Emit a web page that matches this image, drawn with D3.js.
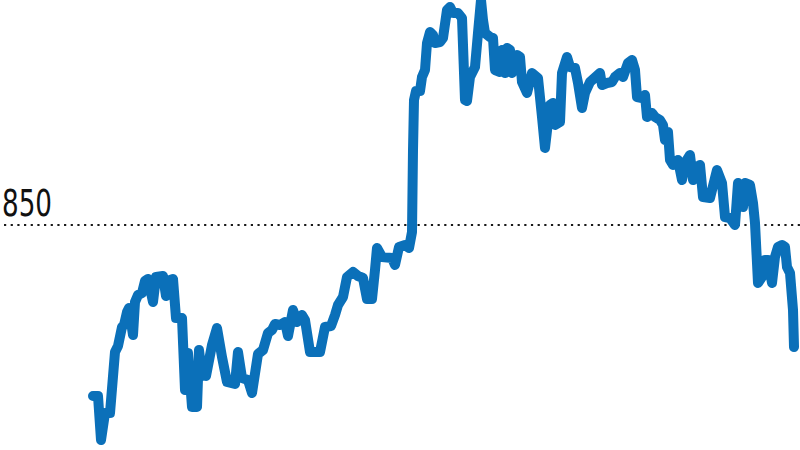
<!DOCTYPE html>
<html>
<head>
<meta charset="utf-8">
<script src="https://cdn.jsdelivr.net/npm/d3@7"></script>
<style>
  html, body { margin: 0; padding: 0; background: #fff; }
  svg { display: block; }
</style>
</head>
<body>
<svg id="chart" width="800" height="450"></svg>
<script>
// Session index (trading days from start of the period)
const sessions = [
  0,5,8,12,17,22,25,29,31,34,
  36,40,42,45,49,52,55,60,63,70,
  73,77,80,83,89,92,95,99,104,106,
  109,113,119,124,129,134,142,145,149,155,
  159,165,170,175,179,182,187,192,195,200,
  204,209,212,217,227,232,238,242,245,250,
  254,260,265,270,274,279,282,284,289,299,
  302,306,312,316,319,320,321,323,327,329,
  332,334,337,340,342,347,350,354,357,360,
  365,369,372,374,377,382,385,388,390,392,
  397,400,402,407,409,412,414,417,419,424,
  427,429,434,439,445,449,452,457,460,462,
  467,469,474,477,482,485,489,492,497,507,
  509,514,519,522,527,530,535,539,542,544,
  549,552,554,559,562,567,570,572,575,577,
  580,585,589,592,597,600,604,607,610,617,
  624,629,632,637,642,645,650,652,657,660,
  662,665,669,672,675,679,682,685,689,692,
  694,697,700,701
];
// Index level
const values = [
  679,679,635,662,662,723,729,748,750,763,
  767,740,773,780,782,794,796,773,798,799,
  779,795,796,757,757,685,722,668,668,725,
  700,699,730,747,718,693,691,723,697,695,
  682,721,725,742,745,751,750,753,739,765,
  753,760,755,723,723,748,749,760,770,778,
  798,803,799,797,776,776,805,827,818,817,
  810,828,830,827,843,925,975,984,984,998,
  1005,1032,1043,1040,1032,1033,1037,1065,1068,1062,
  1062,1057,975,974,998,1008,1042,1075,1055,1042,
  1038,1037,1005,1003,1025,1002,1027,1025,1002,1020,
  1018,993,982,1002,997,958,927,970,972,950,
  953,1002,1018,1008,1007,992,967,982,993,1002,
  990,992,993,998,1002,998,1012,1015,1005,978,
  977,980,958,962,958,955,950,935,943,915,
  910,915,895,912,920,895,908,910,878,877,
  905,892,858,857,850,892,868,892,890,872,
  852,792,798,815,815,792,818,828,830,828,
  808,802,765,728
];
const refValue = 850;
const refLabel = "850";

const svg = d3.select("#chart");
const W = 800, H = 450;

const x = d3.scaleLinear().domain([0, 701]).range([93, 794]);
const y = d3.scaleLinear().domain([625, 1075]).range([450, 0]);

// dotted reference line
svg.append("line")
  .attr("x1", 4).attr("x2", W)
  .attr("y1", y(refValue)).attr("y2", y(refValue))
  .attr("stroke", "#1a1a1a")
  .attr("stroke-width", 2.2)
  .attr("stroke-dasharray", "2.2,4.47");

svg.append("text")
  .attr("x", 2)
  .attr("y", y(refValue) - 9)
  .attr("font-family", "'Liberation Sans Narrow', 'Arial Narrow', 'DejaVu Sans Condensed', sans-serif")
  .attr("font-size", 37)
  .attr("textLength", 50)
  .attr("lengthAdjust", "spacingAndGlyphs")
  .attr("fill", "#111")
  .text(refLabel);

const data = sessions.map((s, i) => ({ s, v: values[i] }));

const line = d3.line()
  .x(d => x(d.s))
  .y(d => y(d.v));

svg.append("path")
  .datum(data)
  .attr("d", line)
  .attr("fill", "none")
  .attr("stroke", "#0b70b9")
  .attr("stroke-width", 10)
  .attr("stroke-linejoin", "round")
  .attr("stroke-linecap", "round");
</script>
</body>
</html>
